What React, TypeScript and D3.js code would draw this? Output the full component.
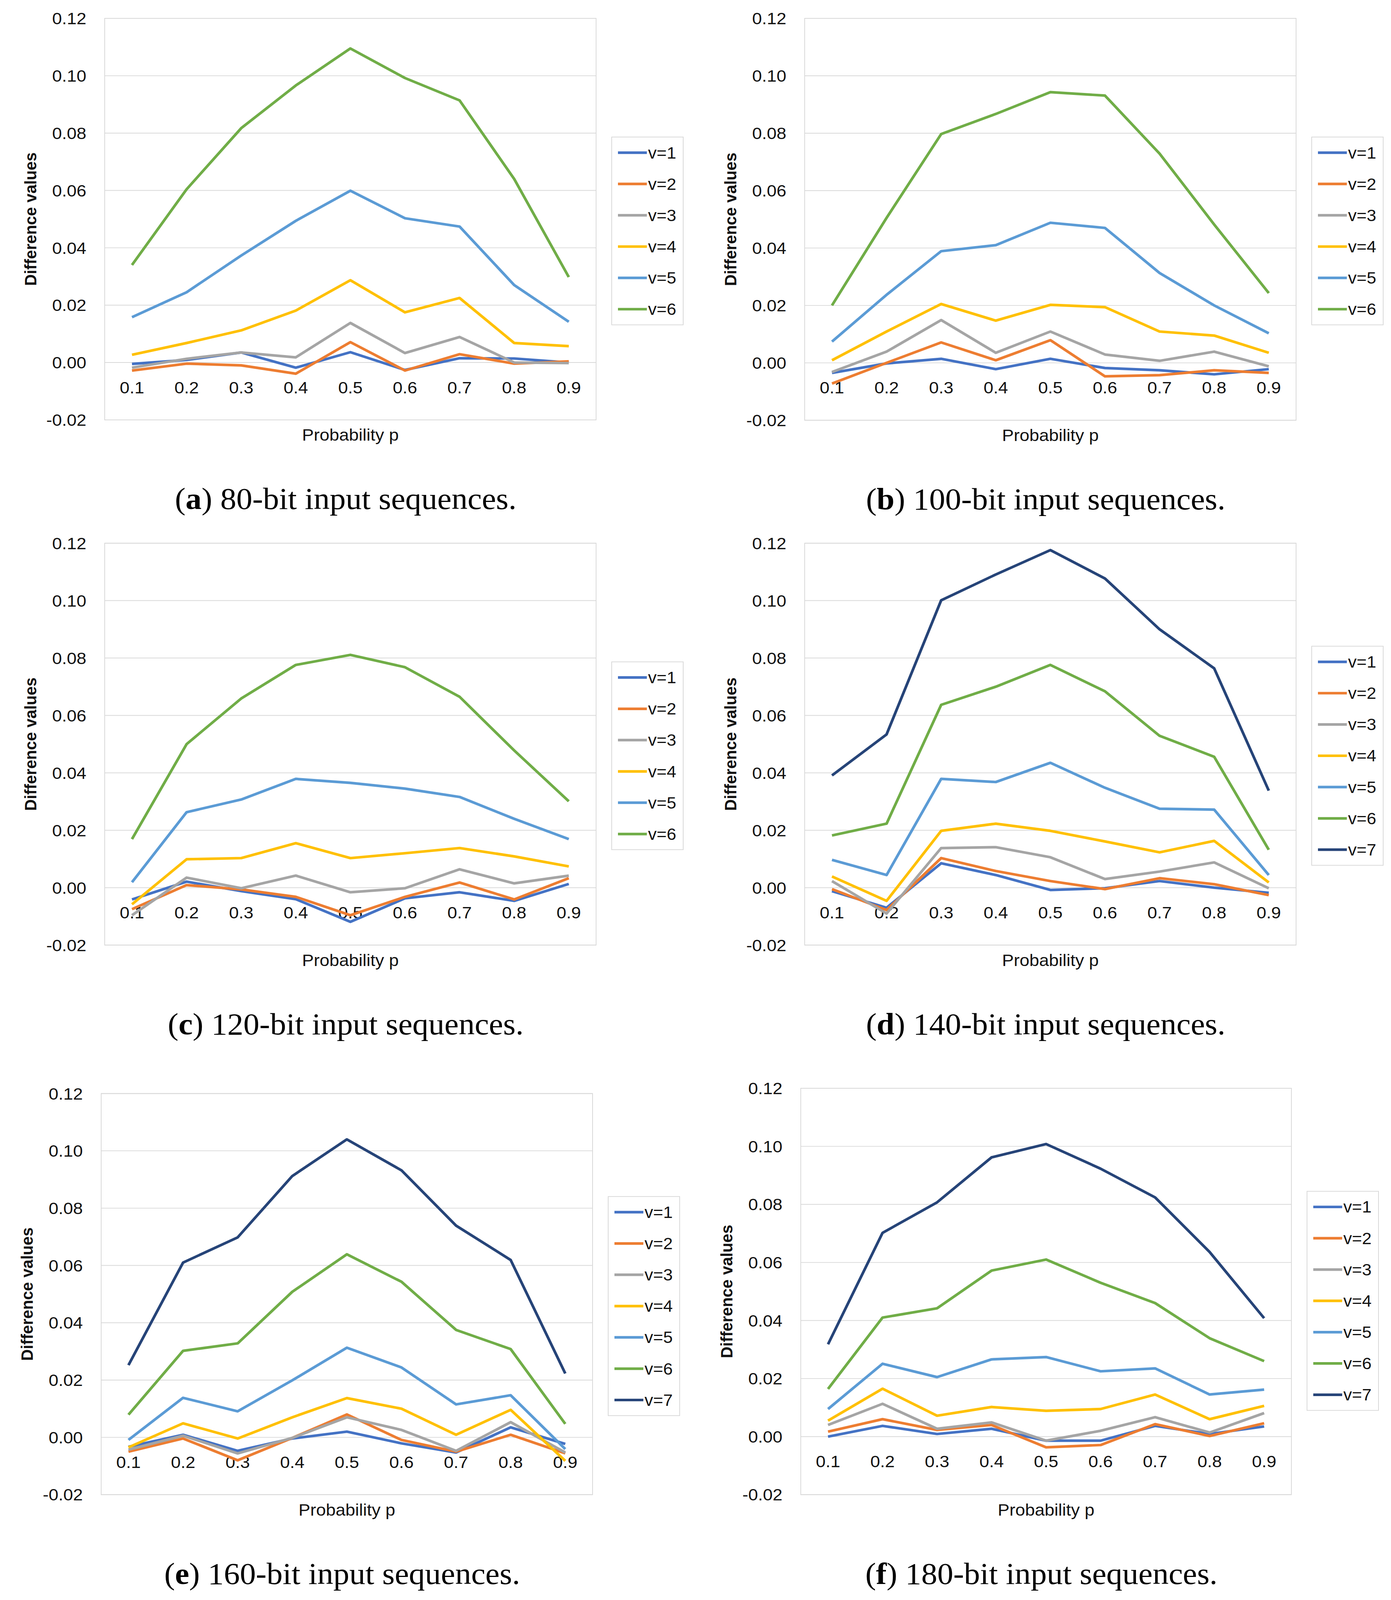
import * as d3 from 'd3';

// probability p on the category axis
const probs = ['0.1', '0.2', '0.3', '0.4', '0.5', '0.6', '0.7', '0.8', '0.9'];
const yTicks = [-0.02, 0, 0.02, 0.04, 0.06, 0.08, 0.1, 0.12];
const seriesNames = ['v=1', 'v=2', 'v=3', 'v=4', 'v=5', 'v=6', 'v=7'];
const colors = ['#4472C4', '#ED7D31', '#A5A5A5', '#FFC000', '#5B9BD5', '#70AD47', '#264478'];

// one row per v
const bits80 = [
  [-0.0005, 0.0009, 0.0035, -0.0018, 0.0036, -0.0026, 0.0015, 0.0014, 0.0],
  [-0.0028, -0.0004, -0.001, -0.0039, 0.0071, -0.0028, 0.0029, -0.0004, 0.0004],
  [-0.0018, 0.0013, 0.0035, 0.0018, 0.0138, 0.0033, 0.0089, 0.0, -0.0002],
  [0.0027, 0.0068, 0.0112, 0.0181, 0.0287, 0.0175, 0.0225, 0.0068, 0.0057],
  [0.0158, 0.0245, 0.0373, 0.0494, 0.0599, 0.0503, 0.0474, 0.027, 0.0142],
  [0.034, 0.0604, 0.0817, 0.0966, 0.1095, 0.0992, 0.0914, 0.064, 0.0298],
];
const bits100 = [
  [-0.0035, -0.0002, 0.0014, -0.0022, 0.0014, -0.0018, -0.0026, -0.004, -0.0022],
  [-0.0072, 0.0, 0.0071, 0.0009, 0.0079, -0.0047, -0.0043, -0.0026, -0.0035],
  [-0.0032, 0.0039, 0.0149, 0.0035, 0.0109, 0.0029, 0.0007, 0.0039, -0.0012],
  [0.0009, 0.0109, 0.0205, 0.0147, 0.0202, 0.0194, 0.0109, 0.0095, 0.0035],
  [0.0074, 0.0237, 0.0389, 0.041, 0.0488, 0.047, 0.0313, 0.02, 0.0103],
  [0.02, 0.0505, 0.0797, 0.0867, 0.0943, 0.0931, 0.0729, 0.0482, 0.0243],
];
const bits120 = [
  [-0.0041, 0.0021, -0.0012, -0.004, -0.0119, -0.0037, -0.0016, -0.0046, 0.0013],
  [-0.0075, 0.0009, -0.0006, -0.0032, -0.0096, -0.0032, 0.0018, -0.0041, 0.0033],
  [-0.0096, 0.0035, -0.0002, 0.0042, -0.0016, -0.0002, 0.0064, 0.0015, 0.0042],
  [-0.0058, 0.0099, 0.0103, 0.0155, 0.0103, 0.012, 0.0138, 0.0109, 0.0074],
  [0.0019, 0.0263, 0.0307, 0.0379, 0.0365, 0.0345, 0.0316, 0.024, 0.0169],
  [0.0169, 0.05, 0.0659, 0.0776, 0.0811, 0.0768, 0.0665, 0.0478, 0.0301],
];
const bits140 = [
  [-0.0012, -0.007, 0.0085, 0.0044, -0.0008, -0.0002, 0.0023, 0.0, -0.0018],
  [-0.0005, -0.0078, 0.0103, 0.0058, 0.0023, -0.0005, 0.0033, 0.0012, -0.0026],
  [0.0023, -0.009, 0.0138, 0.0141, 0.0106, 0.003, 0.0056, 0.0088, -0.0002],
  [0.0039, -0.0046, 0.0198, 0.0223, 0.0198, 0.0161, 0.0123, 0.0163, 0.0018],
  [0.0097, 0.0044, 0.0379, 0.0368, 0.0435, 0.0348, 0.0275, 0.0272, 0.0044],
  [0.0182, 0.0223, 0.0637, 0.07, 0.0776, 0.0684, 0.0529, 0.0456, 0.0132],
  [0.0391, 0.0534, 0.1001, 0.1091, 0.1176, 0.1077, 0.09, 0.0764, 0.0338],
];
const bits160 = [
  [-0.0033, 0.0009, -0.0047, -0.0004, 0.002, -0.0021, -0.0053, 0.0035, -0.0023],
  [-0.005, -0.0004, -0.008, -0.0002, 0.008, -0.0009, -0.005, 0.0009, -0.0056],
  [-0.0043, 0.0006, -0.0056, -0.0002, 0.007, 0.0026, -0.0047, 0.0053, -0.0053],
  [-0.0035, 0.0049, -0.0004, 0.007, 0.0137, 0.01, 0.0009, 0.0096, -0.0082],
  [-0.0009, 0.0138, 0.0091, 0.0199, 0.0313, 0.0244, 0.0115, 0.0147, -0.0041],
  [0.0079, 0.0302, 0.0328, 0.0508, 0.0639, 0.0543, 0.0375, 0.0308, 0.0047],
  [0.0252, 0.061, 0.0698, 0.0912, 0.104, 0.0932, 0.0739, 0.0619, 0.0223],
];
const bits180 = [
  [0.0, 0.0037, 0.0009, 0.0027, -0.0014, -0.0014, 0.0037, 0.0009, 0.0035],
  [0.0017, 0.006, 0.0023, 0.004, -0.0037, -0.0029, 0.0043, 0.0002, 0.0046],
  [0.004, 0.0113, 0.0027, 0.0049, -0.0014, 0.002, 0.0067, 0.0014, 0.0081],
  [0.0055, 0.0165, 0.0072, 0.0102, 0.0089, 0.0095, 0.0145, 0.006, 0.0106],
  [0.0095, 0.0251, 0.0205, 0.0266, 0.0274, 0.0225, 0.0235, 0.0145, 0.0162],
  [0.0164, 0.041, 0.0442, 0.0572, 0.061, 0.053, 0.046, 0.0339, 0.026],
  [0.0318, 0.0702, 0.0807, 0.0962, 0.1008, 0.0923, 0.0824, 0.0636, 0.0408],
];

const captions = [
  ['a', '80-bit input sequences.'],
  ['b', '100-bit input sequences.'],
  ['c', '120-bit input sequences.'],
  ['d', '140-bit input sequences.'],
  ['e', '160-bit input sequences.'],
  ['f', '180-bit input sequences.'],
];

const panelData = [bits80, bits100, bits120, bits140, bits160, bits180];

// plot-area boxes in page pixels
const boxes = [
  { x0: 268, x1: 1526, y0: 49, y1: 1120 },
  { x0: 2060, x1: 3318, y0: 49, y1: 1121 },
  { x0: 268, x1: 1526, y0: 1449, y1: 2521 },
  { x0: 2060, x1: 3318, y0: 1449, y1: 2521 },
  { x0: 259, x1: 1517, y0: 2917, y1: 3987 },
  { x0: 2050, x1: 3306, y0: 2903, y1: 3987 },
];

const W = 3561;
const H = 4268;
const GRID = '#d9d9d9';
const TEXT = '#111';
const SANS = "'Liberation Sans', Arial, sans-serif";
const SERIF = "'Liberation Serif', 'Times New Roman', serif";

function Panel({ data, box, caption }: { data: number[][]; box: typeof boxes[0]; caption: string[] }) {
  const { x0, x1, y0, y1 } = box;
  const x = d3.scalePoint<string>().domain(probs).range([x0, x1]).padding(0.5);
  const y = d3.scaleLinear().domain([-0.02, 0.12]).range([y1, y0]);
  const line = d3
    .line<number>()
    .x((_, i) => x(probs[i])!)
    .y((d) => y(d));

  const rowH = 83.5;
  const legH = data.length * rowH;
  const legCy = y0 + 567;
  const legTop = legCy - legH / 2;
  const legX = x1 + 40;
  const cx = (x0 + x1) / 2 - 12;

  return (
    <g>
      <rect x={x0} y={y0} width={x1 - x0} height={y1 - y0} fill="none" stroke={GRID} strokeWidth={2} />
      {yTicks.map((t) => (
        <g key={t}>
          <line x1={x0} x2={x1} y1={y(t)} y2={y(t)} stroke={GRID} strokeWidth={2} />
          <text x={x0 - 47} y={y(t)} textAnchor="end" dominantBaseline="central" fontSize={45} fill={TEXT}>
            {t.toFixed(2)}
          </text>
        </g>
      ))}
      {probs.map((p) => (
        <text key={p} x={x(p)} y={y(0) + 66} textAnchor="middle" dominantBaseline="central" fontSize={45} fill={TEXT}>
          {p}
        </text>
      ))}
      {data.map((row, i) => (
        <path key={i} d={line(row)!} fill="none" stroke={colors[i]} strokeWidth={7} strokeLinejoin="round" />
      ))}
      <text x={(x0 + x1) / 2} y={y1 + 40} textAnchor="middle" dominantBaseline="central" fontSize={45} fill={TEXT}>
        Probability p
      </text>
      <text
        transform={`translate(${x0 - 190},${(y0 + y1) / 2}) rotate(-90)`}
        textAnchor="middle"
        dominantBaseline="central"
        fontSize={43}
        fontWeight="bold"
        fill={TEXT}
      >
        Difference values
      </text>
      <rect x={legX} y={legTop} width={183} height={legH} fill="#fff" stroke={GRID} strokeWidth={2} />
      {data.map((_, i) => {
        const ly = legTop + (i + 0.5) * rowH;
        return (
          <g key={i}>
            <line x1={legX + 16} x2={legX + 90} y1={ly} y2={ly} stroke={colors[i]} strokeWidth={7} />
            <text x={legX + 93} y={ly} dominantBaseline="central" fontSize={44} fill={TEXT}>
              {seriesNames[i]}
            </text>
          </g>
        );
      })}
      <text x={cx} y={y1 + 238} textAnchor="middle" fontFamily={SERIF} fontSize={82} fill="#000">
        (<tspan fontWeight="bold">{caption[0]}</tspan>) {caption[1]}
      </text>
    </g>
  );
}

export default function App() {
  // the visible area can be a little shorter than the requested window, so fit the drawing to it
  return (
    <div style={{ position: 'fixed', left: 0, top: 0, width: '100vw', height: '100vh', background: '#fff' }}>
      <svg
        width="100%"
        height="100%"
        viewBox={`0 0 ${W} ${H}`}
        preserveAspectRatio="none"
        style={{ display: 'block' }}
        fontFamily={SANS}
      >
        <rect width={W} height={H} fill="#fff" />
        {panelData.map((d, i) => (
          <Panel key={i} data={d} box={boxes[i]} caption={captions[i]} />
        ))}
      </svg>
    </div>
  );
}
